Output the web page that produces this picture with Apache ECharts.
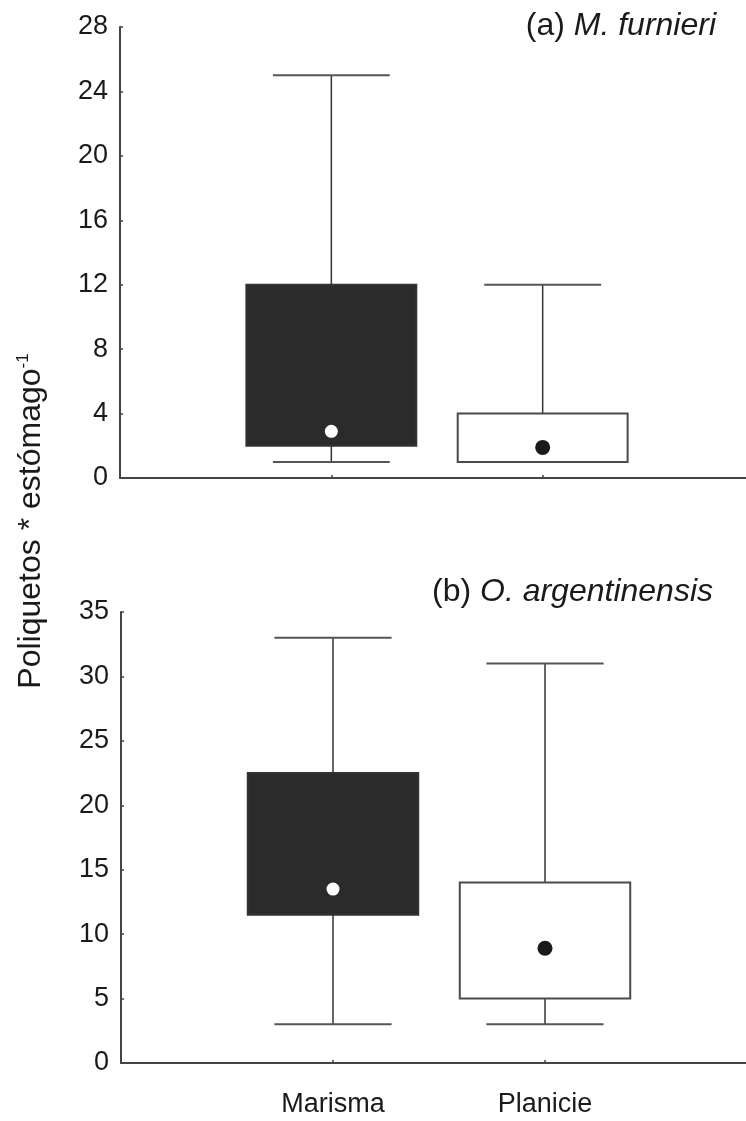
<!DOCTYPE html>
<html>
<head>
<meta charset="utf-8">
<style>
  html, body { margin: 0; padding: 0; background: #ffffff; }
  #chart { width: 746px; height: 1121px; }
</style>
<script src="https://cdn.jsdelivr.net/npm/echarts@6/dist/echarts.min.js"></script>
</head>
<body>
<div id="chart"></div>
<script>
// Habitat categories along the x axis
const categories = ['Marisma', 'Planicie'];

// (a) M. furnieri — whisker ends, box edges and centre point per habitat
const furnieriLow = [1, 1];
const furnieriQ1 = [2, 1];
const furnieriQ3 = [12, 4];
const furnieriHigh = [25, 12];
const furnieriCentre = [2.9, 1.9];

// (b) O. argentinensis
const argentinensisLow = [3, 3];
const argentinensisQ1 = [11.5, 5];
const argentinensisQ3 = [22.5, 14];
const argentinensisHigh = [33, 31];
const argentinensisCentre = [13.5, 8.9];

// y-axis tick labels of each panel
const yTicksA = [0, 4, 8, 12, 16, 20, 24, 28];
const yTicksB = [0, 5, 10, 15, 20, 25, 30, 35];

// Styling
const FONT = "'Liberation Sans', Arial, Helvetica, sans-serif";
const TEXT = '#1a1a1a';
const AXIS = '#444444';
const BOX_FRAC = 0.804;   // box width as a share of one category step
const CAP_FRAC = 0.553;   // whisker cap width as a share of one category step
const boxFill = ['#2b2b2b', '#ffffff'];
const boxStroke = ['#333333', '#4a4a4a'];
const dotFill = ['#ffffff', '#1a1a1a'];
const dotRadius = [6.5, 7.5];

function buildRows(low, q1, q3, high, centre) {
  return categories.map((c, i) => [i + 1, low[i], q1[i], q3[i], high[i], centre[i]]);
}

function renderBox(params, api) {
  const x = api.value(0);
  const lowP = api.coord([x, api.value(1)]);
  const q1P = api.coord([x, api.value(2)]);
  const q3P = api.coord([x, api.value(3)]);
  const highP = api.coord([x, api.value(4)]);
  const midP = api.coord([x, api.value(5)]);
  const step = api.size([1, 0])[0];
  const bw = step * BOX_FRAC;
  const cw = step * CAP_FRAC;
  const cx = lowP[0];
  const i = params.dataIndex;
  const whisker = { stroke: '#333333', lineWidth: 1.5 };
  const cap = { stroke: '#555555', lineWidth: 2 };
  return {
    type: 'group',
    children: [
      { type: 'line', shape: { x1: cx, y1: highP[1], x2: cx, y2: q3P[1] }, style: whisker },
      { type: 'line', shape: { x1: cx, y1: q1P[1], x2: cx, y2: lowP[1] }, style: whisker },
      { type: 'line', shape: { x1: cx - cw / 2, y1: highP[1], x2: cx + cw / 2, y2: highP[1] }, style: cap },
      { type: 'line', shape: { x1: cx - cw / 2, y1: lowP[1], x2: cx + cw / 2, y2: lowP[1] }, style: cap },
      {
        type: 'rect',
        shape: { x: cx - bw / 2, y: q3P[1], width: bw, height: q1P[1] - q3P[1] },
        style: { fill: boxFill[i], stroke: boxStroke[i], lineWidth: 2 }
      },
      { type: 'circle', shape: { cx: cx, cy: midP[1], r: dotRadius[i] }, style: { fill: dotFill[i] } }
    ]
  };
}

function yAxisFor(ticks, gridIndex) {
  return {
    type: 'value',
    gridIndex: gridIndex,
    min: ticks[0],
    max: ticks[ticks.length - 1],
    interval: ticks[1] - ticks[0],
    axisLine: { show: true, lineStyle: { color: AXIS, width: 2 } },
    axisTick: { show: true, inside: true, length: 3, lineStyle: { color: AXIS, width: 1.5 } },
    splitLine: { show: false },
    axisLabel: {
      fontSize: 27, color: TEXT, fontFamily: FONT, margin: 12,
      padding: [0, 0, 8, 0]
    }
  };
}

function xAxisFor(gridIndex, showLabels) {
  return {
    type: 'value',
    gridIndex: gridIndex,
    min: 0,
    max: categories.length + 1,
    interval: 1,
    axisLine: { show: true, onZero: false, lineStyle: { color: AXIS, width: 2 } },
    axisTick: { show: true, inside: true, length: 3, lineStyle: { color: AXIS, width: 1.5 } },
    splitLine: { show: false },
    axisLabel: {
      show: showLabels,
      fontSize: 27, color: TEXT, fontFamily: FONT, margin: 28,
      formatter: v => categories[v - 1] || ''
    }
  };
}

const chart = echarts.init(document.getElementById('chart'), null, { renderer: 'canvas' });

chart.setOption({
  backgroundColor: '#ffffff',
  animation: false,
  grid: [
    { left: 120, top: 27, width: 634, height: 451, outerBoundsMode: 'none', containLabel: false },
    { left: 121, top: 612, width: 636, height: 451, outerBoundsMode: 'none', containLabel: false }
  ],
  xAxis: [xAxisFor(0, false), xAxisFor(1, true)],
  yAxis: [yAxisFor(yTicksA, 0), yAxisFor(yTicksB, 1)],
  series: [
    {
      type: 'custom', xAxisIndex: 0, yAxisIndex: 0,
      renderItem: renderBox,
      encode: { x: 0, y: [1, 2, 3, 4, 5] },
      data: buildRows(furnieriLow, furnieriQ1, furnieriQ3, furnieriHigh, furnieriCentre)
    },
    {
      type: 'custom', xAxisIndex: 1, yAxisIndex: 1,
      renderItem: renderBox,
      encode: { x: 0, y: [1, 2, 3, 4, 5] },
      data: buildRows(argentinensisLow, argentinensisQ1, argentinensisQ3, argentinensisHigh, argentinensisCentre)
    }
  ],
  graphic: [
    {
      type: 'text', x: 716, y: 26,
      style: {
        text: '{n|(a) }{i|M. furnieri}',
        align: 'right', verticalAlign: 'middle', fill: TEXT,
        rich: {
          n: { fontSize: 32, fontFamily: FONT, fill: TEXT },
          i: { fontSize: 32, fontFamily: FONT, fontStyle: 'italic', fill: TEXT }
        }
      }
    },
    {
      type: 'text', x: 713, y: 592,
      style: {
        text: '{n|(b) }{i|O. argentinensis}',
        align: 'right', verticalAlign: 'middle', fill: TEXT,
        rich: {
          n: { fontSize: 32, fontFamily: FONT, fill: TEXT },
          i: { fontSize: 32, fontFamily: FONT, fontStyle: 'italic', fill: TEXT }
        }
      }
    },
    {
      type: 'text', x: 31, y: 521, rotation: Math.PI / 2,
      style: {
        text: '{n|Poliquetos * estómago}{s|-1}',
        align: 'center', verticalAlign: 'middle', fill: TEXT,
        rich: {
          n: { fontSize: 32, fontFamily: FONT, fill: TEXT },
          s: { fontSize: 17, fontFamily: FONT, fill: TEXT, verticalAlign: 'top' }
        }
      }
    }
  ]
});
</script>
</body>
</html>
